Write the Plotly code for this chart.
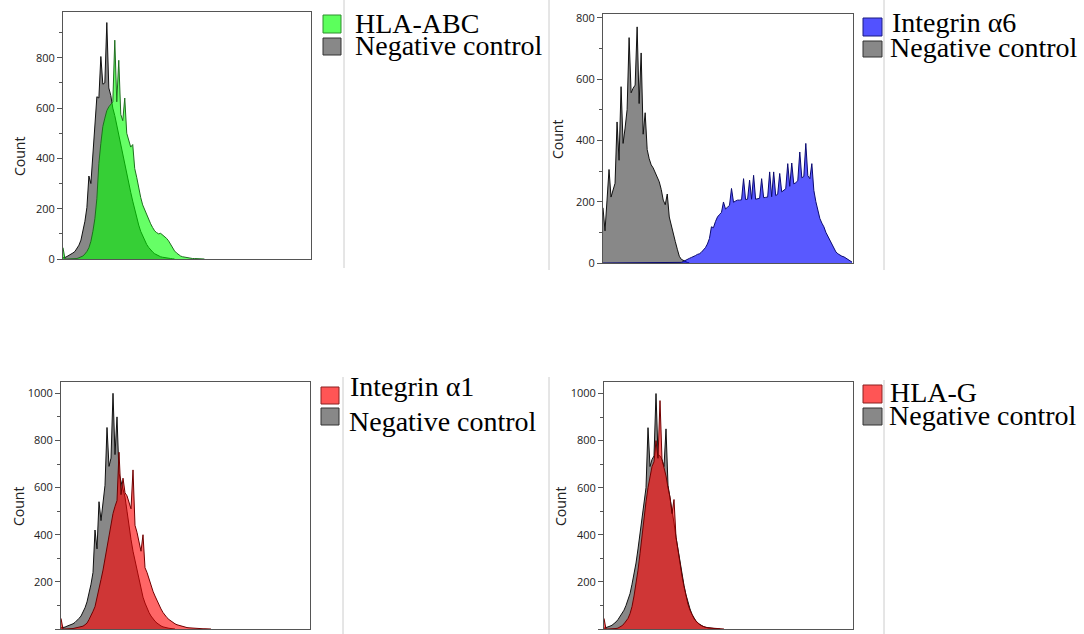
import plotly.graph_objects as go

W, H = 1084, 634

# ---- data: counts per channel bin (2 px per bin) ----
hla_abc_neg = [5, 6, 10, 14, 18, 24, 30, 42, 55, 75, 110, 150, 205, 330, 300, 420, 520, 645, 640, 805,
               695, 700, 940, 680, 650, 600, 570, 530, 490, 450, 410, 380, 340, 300, 265, 230, 195, 165,
               135, 110, 90, 72, 58, 46, 36, 28, 21, 16, 12, 9, 7, 5, 4, 3, 2, 1, 0]
hla_abc = [45, 0, 0, 0, 0, 0, 0, 2, 5, 8, 12, 20, 30, 45, 70, 110, 160, 240, 380, 460, 527, 560, 590,
           605, 615, 625, 870, 625, 790, 575, 550, 640, 500, 470, 445, 455, 360, 325, 280, 245, 215, 195,
           175, 160, 140, 125, 112, 105, 100, 102, 95, 90, 82, 72, 58, 42, 32, 24, 17, 12, 9, 7, 5, 4, 3,
           2, 2, 1, 1, 1, 1, 0]

itga6_neg = [180, 105, 205, 305, 215, 240, 260, 460, 335, 575, 390, 440, 500, 735, 555, 570, 580, 770,
             520, 685, 420, 490, 370, 340, 320, 310, 295, 280, 265, 240, 205, 190, 225, 150, 120, 95, 70,
             45, 22, 12, 8, 4, 2, 0]
itga6 = [0, 0, 0, 0, 0, 0, 0, 0, 0, 0, 0, 0, 0, 0, 0, 0, 0, 0, 0, 0, 0, 0, 0, 0, 0, 0, 0, 0, 0, 0,
         0, 0, 0, 0, 0, 0, 0, 0, 0, 2, 5, 9, 12, 15, 18, 20, 24, 28, 30, 35, 42, 50, 62, 80, 118, 115,
         135, 150, 158, 165, 199, 176, 182, 188, 243, 198, 202, 205, 205, 206, 275, 207, 208, 270, 208,
         286, 208, 210, 211, 275, 213, 214, 215, 297, 216, 297, 220, 224, 292, 232, 237, 242, 324, 250,
         326, 258, 262, 268, 362, 278, 282, 390, 285, 275, 324, 237, 200, 175, 145, 130, 118, 100, 88,
         74, 60, 47, 36, 30, 25, 22, 20, 15, 12, 8, 3]

itga1_neg = [5, 5, 8, 12, 15, 18, 22, 28, 35, 45, 55, 70, 90, 115, 150, 190, 240, 420, 340, 540, 460,
             530, 610, 855, 690, 725, 1000, 740, 900, 660, 630, 600, 560, 500, 430, 380, 330, 290, 240,
             200, 165, 135, 110, 88, 70, 55, 43, 33, 25, 18, 13, 9, 6, 4, 3, 2, 1, 0]
itga1 = [45, 0, 0, 0, 0, 0, 2, 4, 6, 8, 9, 12, 18, 25, 40, 55, 75, 95, 130, 165, 210, 250, 300, 340,
         400, 440, 490, 520, 545, 750, 570, 640, 578, 565, 540, 510, 675, 440, 410, 370, 330, 400, 260,
         240, 210, 185, 160, 140, 120, 100, 85, 70, 58, 48, 40, 33, 27, 22, 18, 15, 12, 10, 8, 6, 5, 4,
         3, 3, 2, 2, 2, 1, 1, 1, 1, 0]

hlag_neg = [3, 5, 8, 12, 16, 22, 30, 40, 52, 65, 80, 100, 125, 150, 190, 230, 280, 340, 400, 460, 530,
            600, 855, 690, 720, 735, 1000, 740, 735, 720, 690, 850, 610, 560, 505, 450, 390, 335, 285,
            230, 185, 145, 110, 85, 62, 45, 33, 24, 18, 13, 9, 7, 5, 4, 3, 2, 1, 1, 0]
hlag = [45, 0, 0, 0, 0, 0, 2, 4, 8, 14, 22, 32, 45, 65, 95, 140, 190, 250, 320, 400, 470, 540, 600,
        650, 690, 710, 800, 725, 970, 720, 690, 650, 600, 560, 490, 550, 390, 330, 280, 225, 180, 140,
        105, 80, 60, 45, 34, 25, 18, 13, 9, 7, 5, 4, 3, 2, 2, 1, 1, 1, 0]

panels = [
    # name, marker counts, control counts, fill, edge, legend fill, legend edge, y max
    ("HLA-ABC", hla_abc, hla_abc_neg, "rgba(0,255,0,0.6)", "#1f6e1f", "#5cff5c", "#2f8f2f", 982),
    ("Integrin α6", itga6, itga6_neg, "rgba(0,0,255,0.65)", "#0a0a70", "#5252ff", "#1a1a80", 812),
    ("Integrin α1", itga1, itga1_neg, "rgba(255,0,0,0.6)", "#700000", "#ff5555", "#8b2020", 1048),
    ("HLA-G", hlag, hlag_neg, "rgba(255,0,0,0.6)", "#700000", "#ff5555", "#8b2020", 1049),
]


def px(x):
    return x / W


def py(y):
    return 1 - y / H


# plot boxes in pixels: left, right, top, bottom
boxes = [(63, 311, 12, 259), (603, 853, 14, 263), (61, 310, 382, 629), (604, 853, 382, 629)]
count_pos = [(19, 157), (558, 140), (18, 507), (560, 507)]
legend_sq = [((323, 15, 341, 33), (323, 38, 341, 55)),
             ((863, 18, 882, 36), (863, 41, 882, 57)),
             ((321, 387, 339, 404), (321, 408, 339, 425)),
             ((863, 385, 882, 403), (863, 408, 882, 425))]
legend_txt = [((353, 23.5), (353, 46)),
              ((890, 22.5), (888, 47.5)),
              ((348, 386.5), (347, 421)),
              ((888, 392.5), (887, 415.5))]

fig = go.Figure()
layout = {}
shapes = []
annotations = []
tickfont = dict(family="Open Sans, Noto Sans, sans-serif", size=11, color="#222")
serif = dict(family="Liberation Serif, Times New Roman, serif", size=28, color="#000")

for i, (name, pos, neg, fill, edge, sq_fill, sq_edge, ymax) in enumerate(panels):
    n = "" if i == 0 else str(i + 1)
    xa, ya = "x" + n, "y" + n
    l, r, t, b = boxes[i]

    fig.add_trace(go.Scatter(y=neg, x0=0, dx=1, mode="lines", fill="tozeroy", fillcolor="#888888",
                             line=dict(color="#111111", width=1), xaxis=xa, yaxis=ya,
                             name="Negative control", showlegend=False))
    fig.add_trace(go.Scatter(y=pos, x0=0, dx=1, mode="lines", fill="tozeroy", fillcolor=fill,
                             line=dict(color=edge, width=1), xaxis=xa, yaxis=ya,
                             name=name, showlegend=False))

    layout["xaxis" + n] = dict(domain=[px(l), px(r)], anchor=ya, range=[0, 124.5], automargin=False,
                               showticklabels=False, ticks="", showgrid=False, zeroline=False,
                               showline=True, mirror=True, linecolor="#555", linewidth=1)
    layout["yaxis" + n] = dict(domain=[py(b), py(t)], anchor=xa, range=[0, ymax], automargin=False,
                               tick0=0, dtick=200, ticks="outside", ticklen=5, tickcolor="#555",
                               tickfont=tickfont, showgrid=False, zeroline=False,
                               showline=True, mirror=True, linecolor="#555", linewidth=1,
                               minor=dict(ticks="outside", ticklen=3, dtick=100, tickcolor="#555",
                                          showgrid=False))

    cx, cy = count_pos[i]
    annotations.append(dict(x=px(cx), y=py(cy), xref="paper", yref="paper", text="Count",
                            textangle=-90, showarrow=False, xanchor="center", yanchor="middle",
                            font=dict(family="Open Sans, Noto Sans, sans-serif", size=14, color="#222")))

    (a, b1) = legend_sq[i]
    shapes.append(dict(type="rect", xref="paper", yref="paper", x0=px(a[0]), x1=px(a[2]),
                       y0=py(a[3]), y1=py(a[1]), fillcolor=sq_fill, line=dict(color=sq_edge, width=1)))
    shapes.append(dict(type="rect", xref="paper", yref="paper", x0=px(b1[0]), x1=px(b1[2]),
                       y0=py(b1[3]), y1=py(b1[1]), fillcolor="#888888", line=dict(color="#333", width=1)))

    (t1, t2) = legend_txt[i]
    annotations.append(dict(x=px(t1[0]), y=py(t1[1]), xref="paper", yref="paper", text=name,
                            showarrow=False, xanchor="left", yanchor="middle", font=serif))
    annotations.append(dict(x=px(t2[0]), y=py(t2[1]), xref="paper", yref="paper", text="Negative control",
                            showarrow=False, xanchor="left", yanchor="middle", font=serif))

# light separator rules between the panels
for x, y0, y1 in [(344, 0, 268), (549, 0, 270), (884, 0, 270), (343, 377, 634), (549, 377, 634), (884, 380, 634)]:
    shapes.append(dict(type="line", xref="paper", yref="paper", x0=px(x), x1=px(x), y0=py(y1), y1=py(y0),
                       line=dict(color="#cccccc", width=1)))

fig.update_layout(width=W, height=H, margin=dict(l=0, r=0, t=0, b=0),
                  paper_bgcolor="white", plot_bgcolor="white",
                  shapes=shapes, annotations=annotations, **layout)

# drop the default page margin so the figure sits at the window's corner
fig.write_html("out.html", config={"displayModeBar": False},
               post_script="document.body.style.margin='0';")
